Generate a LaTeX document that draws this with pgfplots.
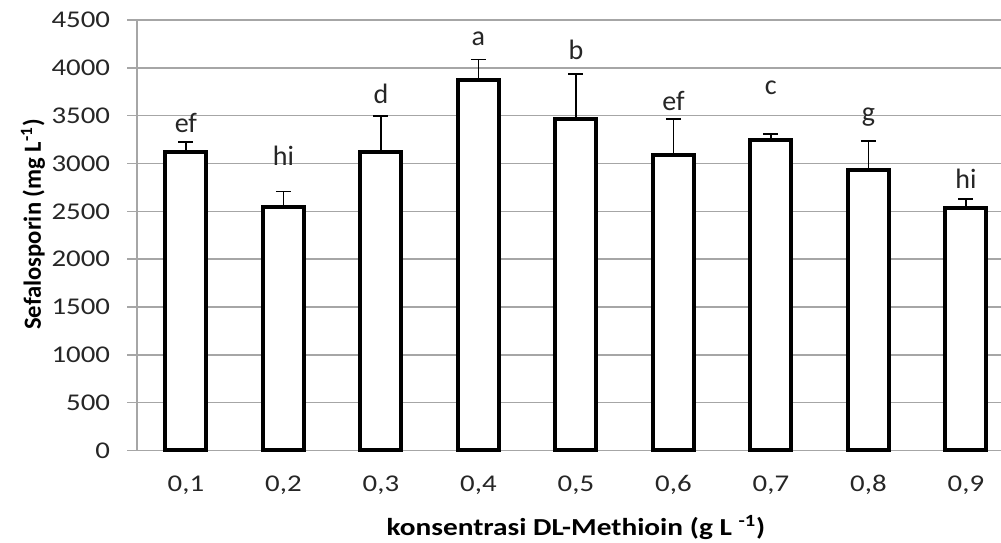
\documentclass[border=0pt]{standalone}
\usepackage{pgfplots}
\pgfplotsset{compat=1.18}
\usepackage{pgfplotstable}
\usepackage{graphicx}
\usepackage{fontspec}
\setmainfont{Carlito}[FakeStretch=1.2]
\newfontfamily\plainfont{Carlito}
\definecolor{gridgray}{HTML}{A6A6A6}
\definecolor{txt}{HTML}{262626}
\pgfplotstableread{
x y e
0 3122 104
1 2546 161
2 3118 380
3 3872 213
4 3464 474
5 3094 370
6 3244 63
7 2930 307
8 2532 95
}\bars
\pgfplotstableread{
x y l
0 3328 ef
1 2975 hi
2 3628 d
3 4238 a
4 4088 b
5 3558 ef
6 3722 c
7 3443 g
8 2740 hi
}\letters
\begin{document}
\begin{tikzpicture}
\useasboundingbox (-68.5pt,-46pt) rectangle (431.5pt,225pt);
\begin{axis}[
  at={(0,0)}, anchor=south west,
  scale only axis, width=431.5pt, height=215pt,
  xmin=-0.5, xmax=8.36, ymin=0, ymax=4500,
  axis x line=bottom, axis y line=left,
  axis line style={draw=gridgray, line width=0.7pt, -},
  ytick={0,500,...,4500},
  xtick={0,...,8},
  xticklabels={{0,1},{0,2},{0,3},{0,4},{0,5},{0,6},{0,7},{0,8},{0,9}},
  major x tick style={draw=none},
  extra x ticks={-0.5,0.5,1.5,2.5,3.5,4.5,5.5,6.5,7.5},
  extra x tick labels={},
  extra x tick style={major tick length=5pt, tick align=outside, tick style={draw=gridgray, line width=0.7pt}},
  tick align=outside,
  major tick length=5pt,
  y tick style={draw=gridgray, line width=0.7pt},
  ymajorgrids, grid style={draw=gridgray, line width=0.7pt},
  /pgf/number format/assume math mode=true,
  scaled y ticks=false,
  yticklabel style={font=\fontsize{12}{14}\selectfont, text=txt, xshift=-5pt, /pgf/number format/1000 sep={}},
  xticklabel style={font=\fontsize{12}{14}\selectfont, text=txt, yshift=-4pt},
  xlabel={konsentrasi DL-Methioin (g L \textsuperscript{-1})},
  ylabel={Sefalosporin (mg L\textsuperscript{-1})},
  xlabel style={font=\fontsize{12.2}{14}\selectfont\bfseries, text=black, at={(axis description cs:0.508,-0.179)}, anchor=center},
  ylabel style={font=\plainfont\bfseries\fontsize{12.3}{14}\selectfont, text=black, at={(axis description cs:-0.1205,0.525)}, anchor=center},
  clip=false,
]
\addplot[ybar, bar width=20.5pt, draw=black, fill=white, line width=2pt,
  error bars/.cd, y dir=plus, y explicit,
  error bar style={line width=0.75pt, black},
  error mark options={black, line width=0.75pt, mark size=3.75pt, rotate=90}]
  table[x=x, y=y, y error=e]{\bars};
\addplot[draw=none, mark=none, nodes near coords, point meta=explicit symbolic,
  nodes near coords style={anchor=base, font=\plainfont\fontsize{14}{16}\selectfont, text=txt, inner sep=0pt}]
  table[x=x, y=y, meta=l]{\letters};
\end{axis}
\end{tikzpicture}
\end{document}
